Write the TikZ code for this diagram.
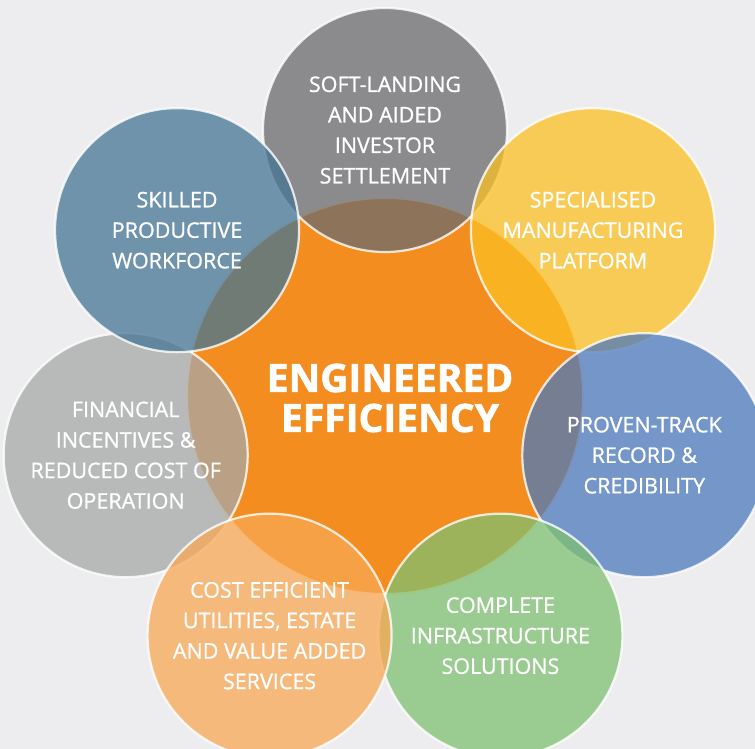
\documentclass[tikz,border=0pt]{standalone}
\usepackage{fontspec}
\setmainfont{Open Sans}
\newfontfamily\lblfont{Open Sans}[FakeBold=0.9]
\newfontfamily\ttlfont{Open Sans}[BoldFeatures={FakeBold=1.6}]
\usetikzlibrary{calc}
\definecolor{bgpaper}{RGB}{237,237,239}
\definecolor{coreorange}{RGB}{244,141,31}
\definecolor{coreedge}{RGB}{253,228,196}
\definecolor{slate}{RGB}{107,107,109}
\definecolor{gold}{RGB}{251,192,36}
\definecolor{cobalt}{RGB}{77,121,187}
\definecolor{leaf}{RGB}{127,192,113}
\definecolor{peach}{RGB}{249,168,85}
\definecolor{ash}{RGB}{167,168,168}
\definecolor{steel}{RGB}{68,117,148}
\tikzset{
  core/.style  ={circle, fill=coreorange, draw=coreedge, line width=2pt,
                 minimum size=396pt, inner sep=0pt},
  petal/.style ={circle, draw=white, draw opacity=0.8, line width=2.2pt,
                 fill opacity=0.75, minimum size=244pt, inner sep=0pt},
  lbl/.style   ={text=white, align=center, font=\lblfont\fontsize{21.5}{30.5}\selectfont},
  ttl/.style   ={text=white, align=center, font=\ttlfont\bfseries\fontsize{39}{40}\selectfont},
}

\begin{document}
\begin{tikzpicture}
\fill[bgpaper] (0,0) rectangle (755pt,-749pt);
\clip (0,0) rectangle (755pt,-749pt);
\node[core] (core) at (385pt,-396pt) {};
% seven petals round the core, top first, clockwise
\foreach \i/\col in {1/slate,2/gold,3/cobalt,4/leaf,6/ash,5/peach,7/steel}
  \node[petal, fill=\col] (p\i) at ($(core)+({90-(\i-1)*360/7}:266pt)$) {};
\foreach \i/\txt in {1/{SOFT-LANDING\\AND AIDED\\INVESTOR\\SETTLEMENT},
                     2/{SPECIALISED\\MANUFACTURING\\PLATFORM},
                     3/{PROVEN-TRACK\\RECORD \&\\CREDIBILITY},
                     4/{COMPLETE\\INFRASTRUCTURE\\SOLUTIONS},
                     5/{COST EFFICIENT\\UTILITIES, ESTATE\\AND VALUE ADDED\\SERVICES},
                     6/{FINANCIAL\\INCENTIVES \&\\REDUCED COST OF\\OPERATION},
                     7/{SKILLED\\PRODUCTIVE\\WORKFORCE}}
  \node[lbl] (t\i) at (p\i) {\txt};
\node[ttl] (title) at ([xshift=5pt,yshift=-2pt]core.center) {ENGINEERED\\EFFICIENCY};
\end{tikzpicture}
\end{document}
